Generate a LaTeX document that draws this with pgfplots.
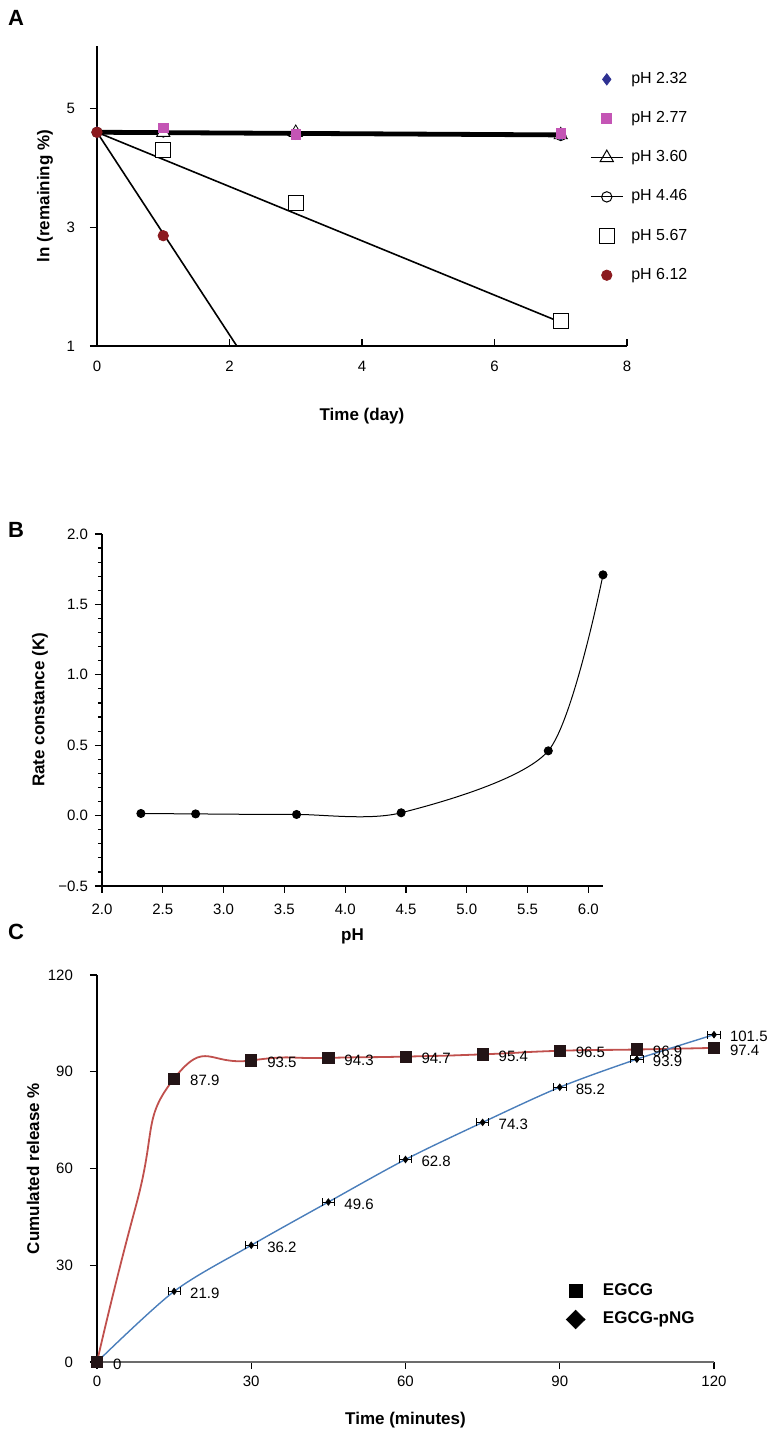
\documentclass[border=0pt]{standalone}
\usepackage{fontspec}
\setmainfont{Liberation Sans}
\usepackage{pgfplots}
\pgfplotsset{compat=1.18}

\definecolor{navyA}{HTML}{2E3192}
\definecolor{magA}{HTML}{C455B5}
\definecolor{redA}{HTML}{8B1A1F}
\definecolor{redC}{HTML}{C0504D}
\definecolor{blueC}{HTML}{4A7EBB}
\definecolor{sqC}{HTML}{231416}

\newcommand\fs[2]{\fontsize{#1}{#2}\selectfont}

\pgfplotsset{
  panel/.style={
    scale only axis, anchor=south west, clip=false,
    axis lines*=left,
    axis line style={line width=0.6pt},
    tick style={line width=0.6pt, black},
    major tick length=3.5pt,
    /pgf/number format/assume math mode=true,
    tick label style={font=\fs{7.5}{9}},
    label style={font=\bfseries\fs{8.5}{10}},
    legend cell align=left,
  },
}

\begin{document}
\begin{tikzpicture}
\path[use as bounding box] (0,0) rectangle (383.5pt,724pt);

% panel letters
\node[font=\bfseries\fs{11}{13}] at (8pt,715pt) {A};
\node[font=\bfseries\fs{11}{13}] at (8pt,459pt) {B};
\node[font=\bfseries\fs{11}{13}] at (8pt,258pt) {C};

% ---------------- A ----------------
\begin{axis}[panel,
  at={(48.5pt,551pt)}, width=265pt, height=150pt,
  xmin=0, xmax=8, ymin=1, ymax=6.06,
  xtick={0,2,4,6,8}, ytick={1,3,5},
  xtick align=inside, ytick align=outside,
  xticklabel style={yshift=-4pt},
  yticklabel style={xshift=-4pt},
  xlabel={Time (day)}, ylabel={ln (remaining \%)},
  xlabel style={at={([yshift=-35pt]axis description cs:0.5,0)}, anchor=center},
  ylabel style={at={([xshift=-26pt]axis description cs:0,0.5)}, anchor=center},
  legend style={at={(0.93,0.927)}, anchor=north west, draw=none, fill=none,
    font=\fs{8}{9.5}, row sep=8.5pt, inner sep=0pt,
    /tikz/every odd column/.append style={column sep=2pt}},
  legend image code/.code={\draw[mark repeat=2,mark phase=2,#1] plot coordinates {(0pt,0pt) (8pt,0pt) (16pt,0pt)};},
]
\addlegendimage{only marks, mark=diamond*, navyA, mark size=2.8pt}
\addlegendentry{pH 2.32}
\addlegendimage{only marks, mark=square*, magA, mark size=2.5pt}
\addlegendentry{pH 2.77}
\addlegendimage{black, line width=0.5pt, mark=triangle, mark size=3.8pt}
\addlegendentry{pH 3.60}
\addlegendimage{black, line width=0.5pt, mark=o, mark size=2.6pt}
\addlegendentry{pH 4.46}
\addlegendimage{only marks, black, mark=square, mark size=3.8pt}
\addlegendentry{pH 5.67}
\addlegendimage{only marks, mark=*, redA, mark size=2.6pt}
\addlegendentry{pH 6.12}

% fitted lines
\addplot[black, line width=2.4pt, forget plot] coordinates {(0,4.605) (7,4.56)};
\addplot[black, line width=0.8pt, forget plot] coordinates {(0,4.605) (7,1.40)};
\addplot[black, line width=0.8pt, forget plot] coordinates {(0,4.605) (2.11,1.0)};
% measured points
\addplot[only marks, mark=diamond*, navyA, mark size=2.8pt, forget plot]
  coordinates {(0,4.605) (1,4.62) (3,4.58) (7,4.56)};
\addplot[only marks, mark=o, black, mark size=2.6pt, forget plot]
  coordinates {(0,4.605) (1,4.61) (3,4.58) (7,4.55)};
\addplot[only marks, mark=triangle*, black, mark size=3.8pt, mark options={fill=white}, forget plot]
  coordinates {(1,4.60) (3,4.60) (7,4.56)};
\addplot[only marks, mark=square*, magA, mark size=2.4pt, forget plot]
  coordinates {(1,4.68) (3,4.57) (7,4.59)};
\addplot[only marks, mark=square*, black, mark size=3.8pt, mark options={fill=white}, forget plot]
  coordinates {(1,4.31) (3,3.41) (7,1.42)};
\addplot[only marks, mark=*, redA, mark size=2.6pt, forget plot]
  coordinates {(0,4.605) (1,2.86)};
\end{axis}

% ---------------- B ----------------
\begin{axis}[panel,
  at={(51pt,281pt)}, width=250.5pt, height=176pt,
  xmin=2, xmax=6.12, ymin=-0.5, ymax=2,
  xtick={2,2.5,...,6}, ytick={-0.5,0,...,2},
  yticklabels={−0.5,0.0,0.5,1.0,1.5,2.0},
  xticklabel style={yshift=-2pt, /pgf/number format/.cd, fixed, fixed zerofill, precision=1},
  minor y tick num=4, minor tick length=2pt,
  tick align=outside,
  xlabel={pH}, ylabel={Rate constance (K)},
  xlabel style={at={([yshift=-25pt]axis description cs:0.5,0)}, anchor=center},
  ylabel style={at={([xshift=-31pt]axis description cs:0,0.5)}, anchor=center},
]
\addplot[black, line width=0.5pt, smooth, tension=0.45, mark=*, mark size=2pt, mark options={black}]
  coordinates {(2.32,0.015) (2.77,0.012) (3.60,0.008) (4.46,0.02) (5.67,0.46) (6.12,1.71)};
\end{axis}

% ---------------- C ----------------
\begin{axis}[panel,
  at={(48.5pt,43pt)}, width=308.5pt, height=193.5pt,
  xmin=0, xmax=120, ymin=0, ymax=120,
  xtick={0,30,...,120}, ytick={0,30,...,120},
  tick align=outside,
  yticklabel style={xshift=-5pt},
  x axis line style={gray!85!black},
  xlabel={Time (minutes)}, ylabel={Cumulated release \%},
  xlabel style={at={([yshift=-29pt]axis description cs:0.5,0)}, anchor=center},
  ylabel style={at={([xshift=-32pt]axis description cs:0,0.5)}, anchor=center},
  legend style={at={(0.76,0.215)}, anchor=north west, draw=none, fill=none,
    font=\bfseries\fs{8.5}{10}, row sep=3pt, inner sep=0pt,
    /tikz/every odd column/.append style={column sep=7pt}},
  legend image code/.code={\draw[#1] plot coordinates {(6pt,0pt)};},
  nodes near coords style={font=\fs{7.5}{9}, text=black, anchor=west, xshift=4.5pt, yshift=-1pt},
]
\addlegendimage{only marks, mark=square*, black, mark size=3.3pt}
\addlegendentry{EGCG}
\addlegendimage{only marks, mark=diamond*, black, mark size=4.6pt, mark options={xscale=1.35}}
\addlegendentry{EGCG-pNG}

\addplot[redC, line width=0.9pt, smooth, tension=1.0, forget plot]
  coordinates {(0,0) (7.5,48) (15,87.9) (30,93.5) (45,94.3) (60,94.7) (75,95.4) (90,96.5) (105,96.9) (120,97.4)};
\addplot[blueC, line width=0.7pt, smooth, forget plot]
  coordinates {(0,0) (15,21.9) (30,36.2) (45,49.6) (60,62.8) (75,74.3) (90,85.2) (105,93.9) (120,101.5)};
\addplot[only marks, mark=diamond*, black, mark size=1.6pt, forget plot,
  nodes near coords, point meta=explicit symbolic,
  error bars/.cd, x dir=both, x explicit,
  error bar style={black, line width=0.5pt}, error mark=|, error mark options={mark size=2pt}]
  table[x=x, y=y, x error=ex, meta=lab] {
  x y ex lab
  15 21.9 1.2 21.9
  30 36.2 1.2 36.2
  45 49.6 1.2 49.6
  60 62.8 1.2 62.8
  75 74.3 1.2 74.3
  90 85.2 1.2 85.2
  105 93.9 1.2 93.9
  120 101.5 1.2 101.5
  };
\addplot[only marks, mark=square*, sqC, mark size=2.8pt, forget plot,
  nodes near coords, point meta=explicit symbolic]
  coordinates {(0,0) [0] (15,87.9) [87.9] (30,93.5) [93.5] (45,94.3) [94.3] (60,94.7) [94.7]
  (75,95.4) [95.4] (90,96.5) [96.5] (105,96.9) [96.9] (120,97.4) [97.4]};
\end{axis}
\end{tikzpicture}
\end{document}
